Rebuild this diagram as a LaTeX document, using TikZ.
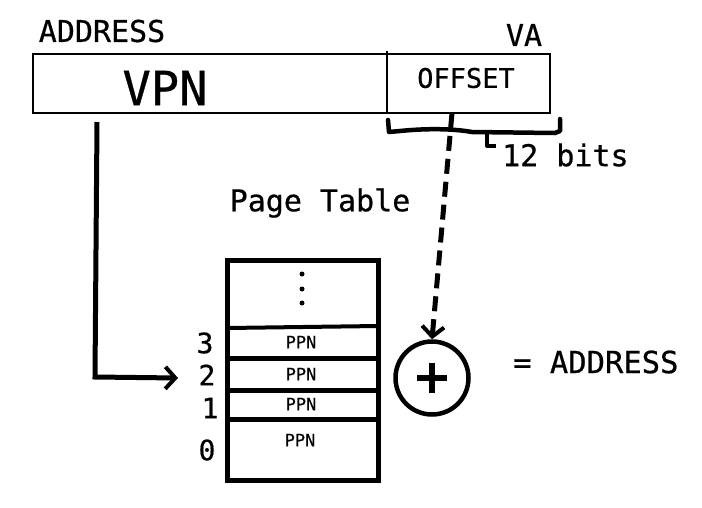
\documentclass[tikz,border=0pt]{standalone}
\usepackage{fontspec}
\setmonofont[FakeBold=0.6]{DejaVu Sans Mono}
\usetikzlibrary{arrows.meta}
\tikzset{
  txt/.style={font=\ttfamily\fontsize{30}{30}\selectfont, inner sep=0pt},
  ppn/.style={font=\ttfamily\fontsize{17}{17}\selectfont, inner sep=0pt},
  rownum/.style={font=\ttfamily\fontsize{28}{28}\selectfont, inner sep=0pt},
  thin box/.style={line width=2.2pt},
  table line/.style={line width=5pt},
  tip/.style={-{Straight Barb[length=10pt,width=22pt,line width=4pt]}},
}
\begin{document}
\begin{tikzpicture}[x=1pt,y=-1pt]
\useasboundingbox (0,0) rectangle (702,507);
% top address
\node[txt] (addr) at (102,31) {ADDRESS};
\node[txt] (va) at (524,35) {VA};
\draw[thin box] (33,54) rectangle (550,113);
\coordinate (vpnbot) at (97,122);
\draw[line width=1.5pt] (387,51) -- (387,113);
\node[font=\ttfamily\fontsize{47}{47}\selectfont, inner sep=0pt] (vpn) at (165,88) {VPN};
\node[font=\ttfamily\fontsize{27}{27}\selectfont, inner sep=0pt] (off) at (466,78) {OFFSET};
% brace
\draw[line width=4.5pt, line cap=round, line join=round]
  (388,120) -- (389,132) -- (400,131) .. controls (430,128) and (455,129) .. (472,132) -- (555,133) -- (560,131) -- (560,119);
\draw[line width=4pt, line join=round] (487,133) -- (487,146) -- (496,146);
\node[txt, anchor=west] (bits) at (502,155) {12 bits};
% page table
\node[txt] (pt) at (320,203) {Page Table};
\draw[table line] (227,260) rectangle (378,480);
\draw[line width=4pt] (227,328) -- (378,326);
\draw[table line] (227,358) -- (378,358);
\draw[table line] (227,390) -- (378,390);
\draw[table line] (227,419) -- (378,419);
\foreach \yy in {274,289,303} \fill (302,\yy) circle (2.5);
\node[ppn] (p3) at (301,342) {PPN};
\node[ppn] (p2) at (301,374) {PPN};
\node[ppn] (p1) at (301,404) {PPN};
\node[ppn] (p0) at (300,440) {PPN};
\node[rownum] (n3) at (205,343) {3};
\node[rownum] (n2) at (207,375) {2};
\node[rownum] (n1) at (210,408) {1};
\node[rownum] (n0) at (207,450) {0};
\coordinate (row2) at (178,378);
% VPN arrow
\draw[line width=5pt, tip] (vpnbot) -- (95,377) -- (row2);
% adder
\node[draw, circle, line width=4.5pt, minimum size=73pt, inner sep=0pt] (plus) at (432,378) {};
\draw[line width=6pt] (417,378) -- (447,378);
\draw[line width=6pt] (432,363) -- (432,393);
\coordinate (offbot) at (452,113);
\draw[line width=5pt, dash pattern=on 15pt off 8pt, tip] (offbot) -- (plus.north);
\node[font=\ttfamily\fontsize{30.5}{30.5}\selectfont, inner sep=0pt, anchor=west] (eq) at (513,362) {= ADDRESS};
\end{tikzpicture}
\end{document}
